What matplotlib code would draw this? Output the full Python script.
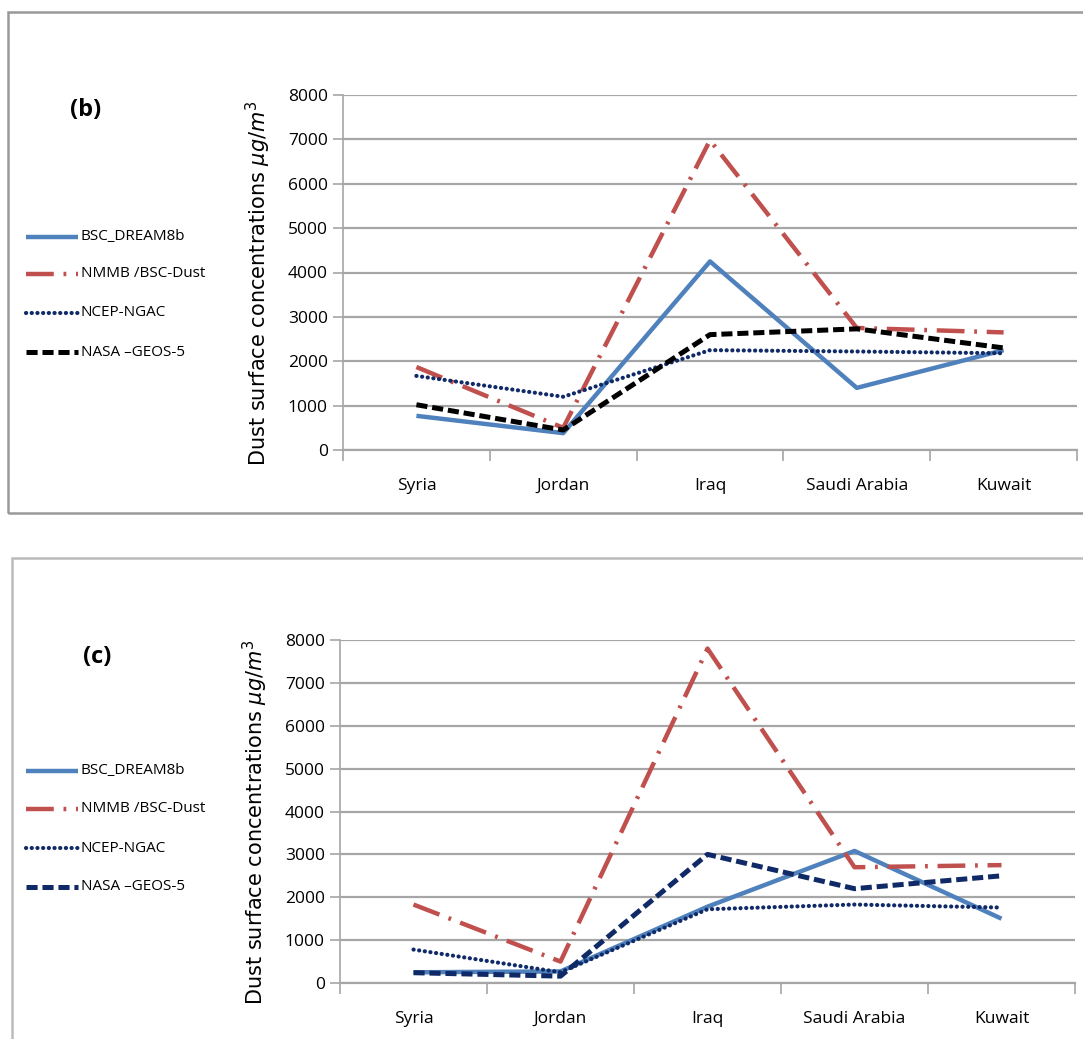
import numpy as np
import matplotlib
matplotlib.use("Agg")
import matplotlib.pyplot as plt
from matplotlib.patches import Rectangle
from matplotlib.lines import Line2D

plt.rcParams['font.family'] = ['Open Sans', 'DejaVu Sans']
plt.rcParams['lines.scale_dashes'] = False

countries = ["Syria", "Jordan", "Iraq", "Saudi Arabia", "Kuwait"]
series_names = ["BSC_DREAM8b", "NMMB /BSC-Dust", "NCEP-NGAC", "NASA \u2013GEOS-5"]

# panel (b)
b_dream = [770, 380, 4250, 1400, 2250]
b_nmmb = [1870, 500, 6980, 2750, 2650]
b_ngac = [1670, 1200, 2250, 2220, 2180]
b_geos = [1020, 450, 2600, 2730, 2300]

# panel (c)
c_dream = [250, 270, 1780, 3080, 1500]
c_nmmb = [1830, 500, 7800, 2700, 2750]
c_ngac = [780, 250, 1720, 1830, 1760]
c_geos = [240, 160, 3000, 2200, 2500]

yticks = [0, 1000, 2000, 3000, 4000, 5000, 6000, 7000, 8000]

BLUE = '#4F81BD'
RED = '#C0504D'
NAVY = '#0F2A66'
GRID = '#A6A6A6'

W, H = 1083, 1039
fig = plt.figure(figsize=(W / 100, H / 100), dpi=100)


def styles(geos_color):
    return [
        dict(color=BLUE, lw=3.2, linestyle='-', solid_capstyle='butt'),
        dict(color=RED, lw=3.2, linestyle=(0, (20, 7, 2, 7)), dash_capstyle='butt'),
        dict(color=NAVY, lw=3.0, linestyle=(0, (0.1, 4.0)), dash_capstyle='round'),
        dict(color=geos_color, lw=3.6, linestyle=(0, (8, 3.5)), dash_capstyle='butt'),
    ]


def draw_panel(rect, data, geos_color, tag, tag_xy, legend_ys):
    ax = fig.add_axes(rect)
    x = np.arange(len(countries))
    st = styles(geos_color)
    for vals, s in zip(data, st):
        ax.plot(x, vals, **s, zorder=3)

    ax.set_xlim(-0.5, len(countries) - 0.5)
    ax.set_ylim(0, 8000)
    ax.set_yticks(yticks)
    ax.set_yticklabels([str(v) for v in yticks], fontsize=12.5)
    ax.set_xticks(x)
    ax.set_xticklabels(countries, fontsize=12.5)
    ax.set_xticks(np.arange(-0.5, len(countries)), minor=True)
    ax.tick_params(axis='x', which='major', length=0, pad=20)
    ax.tick_params(axis='x', which='minor', length=8, width=1.2, color=GRID, direction='out')
    ax.tick_params(axis='y', length=7, width=1.2, color=GRID, pad=4)
    ax.yaxis.grid(True, color=GRID, lw=1.6)
    ax.set_axisbelow(True)
    for side in ('top', 'right'):
        ax.spines[side].set_visible(False)
    ax.spines['left'].set_color(GRID)
    ax.spines['bottom'].set_color(GRID)
    ax.spines['left'].set_linewidth(1.2)
    ax.spines['bottom'].set_linewidth(1.6)

    ax.set_ylabel(r'Dust surface concentrations $\mu g/m^3$', fontsize=15,
                  family='DejaVu Sans')
    ax.yaxis.set_label_coords(-70 / rect[2] / W, 0.47)

    fig.text(tag_xy[0] / W, 1 - tag_xy[1] / H, tag, fontsize=17, fontweight='bold',
             ha='center', va='center')

    # legend on the left, outside the plot area
    for (s, name, ly) in zip(st, series_names, legend_ys):
        yy = 1 - ly / H
        fig.add_artist(Line2D([26 / W, 78 / W], [yy, yy], **s))
        fig.text(81 / W, yy, name, fontsize=11, va='center', ha='left')
    return ax


draw_panel([343 / W, 1 - 450 / H, 734 / W, 355 / H],
           [b_dream, b_nmmb, b_ngac, b_geos], 'black', '(b)', (86, 110),
           [237, 274, 313, 352])

draw_panel([340 / W, 1 - 983 / H, 735 / W, 343 / H],
           [c_dream, c_nmmb, c_ngac, c_geos], NAVY, '(c)', (97, 657),
           [771, 809, 848, 887])

# outer frames around each panel
fig.add_artist(Rectangle((8 / W, 1 - 513 / H), 1.2, (513 - 12) / H,
                         transform=fig.transFigure, fill=False, ec='#999999', lw=1.8))
fig.add_artist(Rectangle((12 / W, -0.2), 1.2, 0.2 + (H - 558) / H,
                         transform=fig.transFigure, fill=False, ec='#BBBBBB', lw=1.8))

fig.savefig('out.png', dpi=100)
